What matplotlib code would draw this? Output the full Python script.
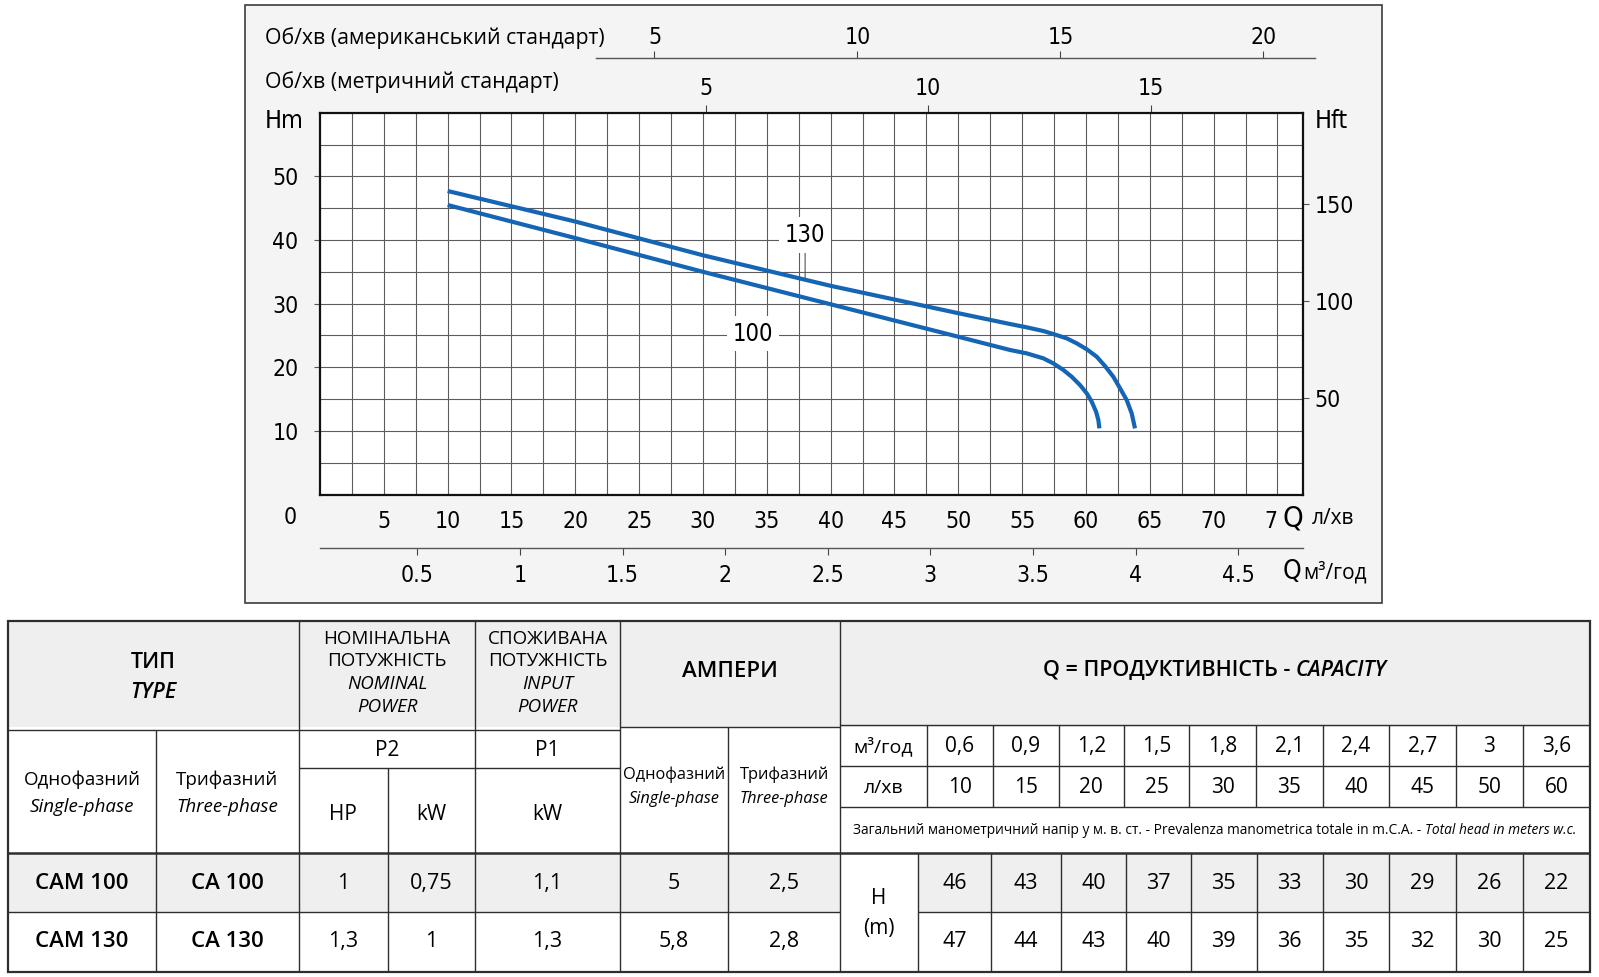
import numpy as np
import matplotlib.pyplot as plt
from matplotlib.patches import Rectangle

# pump curves: Q in l/min, H in m
q_130 = [10, 20, 30, 40, 50, 54.05, 55.36, 56.66, 57.44, 58.49, 59.27, 60.06, 60.84,
         61.49, 62.14, 62.67, 63.19, 63.58, 63.84]
h_130 = [47.7, 42.9, 37.6, 32.8, 28.5, 26.8, 26.28, 25.7, 25.23, 24.55, 23.77, 22.83, 21.67,
         20.2, 18.52, 16.7, 14.86, 12.77, 10.41]
q_100 = [10, 20, 30, 40, 50, 54.05, 55.36, 56.66, 57.44, 58.23, 58.88, 59.53, 60.06,
         60.45, 60.79, 60.97, 61.05]
h_100 = [45.5, 40.3, 35.0, 29.9, 24.8, 22.72, 22.19, 21.41, 20.62, 19.58, 18.52, 17.22, 15.91,
         14.6, 13.02, 11.72, 10.41]

lmin_ticks = [5, 10, 15, 20, 25, 30, 35, 40, 45, 50, 55, 60, 65, 70, 75]
m3h_ticks = [0.5, 1, 1.5, 2, 2.5, 3, 3.5, 4, 4.5]
m3h_labels = ['0.5', '1', '1.5', '2', '2.5', '3', '3.5', '4', '4.5']
rpm_metric_ticks = [5, 10, 15]
rpm_us_ticks = [5, 10, 15, 20]
hm_ticks = [10, 20, 30, 40, 50]
hft_ticks = [50, 100, 150]

# table
type_single = ['CAM 100', 'CAM 130']
type_three = ['CA 100', 'CA 130']
p2_hp = ['1', '1,3']
p2_kw = ['0,75', '1']
p1_kw = ['1,1', '1,3']
amp_single = ['5', '5,8']
amp_three = ['2,5', '2,8']
cap_m3h = ['0,6', '0,9', '1,2', '1,5', '1,8', '2,1', '2,4', '2,7', '3', '3,6']
cap_lmin = ['10', '15', '20', '25', '30', '35', '40', '45', '50', '60']
head_100 = [46, 43, 40, 37, 35, 33, 30, 29, 26, 22]
head_130 = [47, 44, 43, 40, 39, 36, 35, 32, 30, 25]

TXT = ['Open Sans', 'DejaVu Sans']
BLUE = '#1565b5'
plt.rcParams['font.family'] = ['DejaVu Sans']
plt.rcParams['font.stretch'] = 'condensed'

W, H = 1599, 977
fig = plt.figure(figsize=(W / 100, H / 100), dpi=100)

bg = fig.add_axes([0, 0, 1, 1])
bg.set_xlim(0, W)
bg.set_ylim(H, 0)
bg.axis('off')
bg.add_patch(Rectangle((245, 5), 1137, 598, fc='#f4f4f4', ec='#3c3c3c', lw=1.2))

# main plot
L, R, T, B = 320, 1303, 112.7, 494.6
ax = fig.add_axes([L / W, 1 - B / H, (R - L) / W, (B - T) / H])
ax.set_xlim(0, 77)
ax.set_ylim(0, 60)
ax.set_xticks(lmin_ticks)
ax.set_xticks(np.arange(2.5, 77, 5), minor=True)
ax.set_yticks(hm_ticks)
ax.set_yticks(np.arange(5, 60, 10), minor=True)
ax.grid(which='both', color='#5c5c5c', lw=0.8)
ax.set_axisbelow(True)
ax.tick_params(axis='x', which='both', length=0, pad=11, labelsize=16.5)
ax.tick_params(axis='y', which='major', length=4, width=0.8, color='#555', pad=11.5, labelsize=16.5)
ax.tick_params(axis='y', which='minor', length=0)
for s in ax.spines.values():
    s.set_linewidth(1.6)
    s.set_color('#111')

ax.plot(q_130, h_130, color=BLUE, lw=3, solid_joinstyle='round', solid_capstyle='butt')
ax.plot(q_100, h_100, color=BLUE, lw=3, solid_joinstyle='round', solid_capstyle='butt')

ax.annotate('130', xy=(38.0, np.interp(38.0, q_130, h_130)), xytext=(38.0, 40.8),
            ha='center', va='center', fontsize=17,
            bbox=dict(boxstyle='square,pad=0.25', fc='white', ec='none'),
            arrowprops=dict(arrowstyle='-', color='#555', lw=0.8, shrinkA=0, shrinkB=0))
ax.text(33.9, 25.3, '100', ha='center', va='center', fontsize=17,
        bbox=dict(boxstyle='square,pad=0.25', fc='white', ec='none'))

ft = ax.secondary_yaxis('right', functions=(lambda m: m / 0.3048, lambda f: f * 0.3048))
ft.set_yticks(hft_ticks)
ft.spines['right'].set_visible(False)
ft.tick_params(length=4, width=0.8, color='#555', pad=4.5, labelsize=16.5)

rpm_m = ax.secondary_xaxis('top', functions=(lambda q: (q - 12.75) / 3.49, lambda r: 12.75 + 3.49 * r))
rpm_m.set_xticks(rpm_metric_ticks)
rpm_m.spines['top'].set_visible(False)
rpm_m.tick_params(length=5.8, width=0.8, color='#444', pad=3.4, labelsize=16.5)

rpm_us = ax.secondary_xaxis((B - 58.3) / (B - T),
                            functions=(lambda q: (q - 10.3) / 3.18, lambda g: 10.3 + 3.18 * g))
rpm_us.set_xticks(rpm_us_ticks)
rpm_us.spines['top'].set_bounds(3.55, 21.26)
rpm_us.spines['top'].set_color('#555')
rpm_us.spines['top'].set_linewidth(1)
rpm_us.tick_params(length=5, width=0.8, color='#444', pad=1.5, labelsize=16.5)

m3 = ax.secondary_xaxis(-(547.7 - B) / (B - T),
                        functions=(lambda q: (q + 0.4) / 16.07, lambda m: 16.07 * m - 0.4))
m3.set_xticks(m3h_ticks, m3h_labels)
m3.spines['bottom'].set_color('#555')
m3.spines['bottom'].set_linewidth(1)
m3.tick_params(length=5, width=0.8, color='#444', pad=7, labelsize=16.5)

# overlay for free text and the table
fg = fig.add_axes([0, 0, 1, 1], zorder=5)
fg.set_xlim(0, W)
fg.set_ylim(H, 0)
fg.axis('off')
fg.patch.set_alpha(0)

fg.text(265, 38, 'Об/хв (американський стандарт)', family=TXT, stretch='normal', fontsize=15.3, va='center')
fg.text(265, 82, 'Об/хв (метричний стандарт)', family=TXT, stretch='normal', fontsize=15.3, va='center')
fg.text(284.6, 120.5, 'Hm', fontsize=18, ha='center', va='center')
fg.text(1315, 120.5, 'Hft', fontsize=18, va='center')
fg.text(290.6, 518, '0', fontsize=16.5, ha='center', va='center')
fg.text(1283, 518, 'Q', fontsize=21, va='center',
        bbox=dict(boxstyle='square,pad=0.22', fc='#f4f4f4', ec='none'))
fg.text(1312, 518, 'л/хв', family=TXT, stretch='normal', fontsize=15, va='center')
fg.text(1283, 572, 'Q', fontsize=19, va='center')
fg.text(1303, 572, 'м³/год', family=TXT, stretch='normal', fontsize=15, va='center')

# ---- table ----
GRAY = '#efefef'
LINE = '#2e2e2e'
xl, xr, yt, yb = 8, 1590, 620.5, 971.7
fg.add_patch(Rectangle((xl, yt), xr - xl, 727 - yt, fc=GRAY, ec='none'))
fg.add_patch(Rectangle((xl, 852.7), 840 - xl, 912 - 852.7, fc=GRAY, ec='none'))
fg.add_patch(Rectangle((918.3, 852.7), xr - 918.3, 912 - 852.7, fc=GRAY, ec='none'))
fg.add_patch(Rectangle((xl, yt), xr - xl, yb - yt, fc='none', ec=LINE, lw=1.6))

xs_m3 = [840, 926.7, 993.3, 1058.7, 1124, 1189.3, 1256, 1322.7, 1389.3, 1456, 1522.7, 1590]
xs_h = [840, 918.3, 990.7, 1060.7, 1126, 1190.7, 1256.7, 1322.7, 1389.3, 1456, 1522.7, 1590]


def vline(x, y0, y1, lw=1.0):
    fg.plot([x, x], [y0, y1], color=LINE, lw=lw, solid_capstyle='butt')


def hline(y, x0, x1, lw=1.0):
    fg.plot([x0, x1], [y, y], color=LINE, lw=lw, solid_capstyle='butt')


vline(156, 730, yb)
vline(298.8, yt, yb)
vline(387.5, 768.3, yb)
vline(475.2, yt, yb)
vline(620, yt, yb)
vline(728, 727, yb)
vline(840, yt, yb)
for x in xs_m3[1:-1]:
    vline(x, 725, 807.3)
for x in xs_h[1:-1]:
    vline(x, 852.7, yb)
hline(730, xl, 620)
hline(727, 620, 840)
hline(725, 840, xr)
hline(768.3, 298.8, 620)
hline(766, 840, xr)
hline(807.3, 840, xr)
hline(852.7, xl, xr, lw=1.8)
hline(912, xl, 840)
hline(912, 918.3, xr)


def cell(x, y, s, size=15, style='normal', weight='normal'):
    fg.text(x, y, s, family=TXT, stretch='normal', fontsize=size, fontstyle=style,
            fontweight=weight, ha='center', va='center')


def mixed(x, y, parts, size):
    r = fig.canvas.get_renderer()
    a = fg.text(0, 0, 'a a', family=TXT, stretch='normal', fontsize=size)
    b = fg.text(0, 0, 'aa', family=TXT, stretch='normal', fontsize=size)
    gap = a.get_window_extent(r).width - b.get_window_extent(r).width
    a.remove()
    b.remove()
    texts = [fg.text(0, y, s, family=TXT, stretch='normal', fontsize=size, fontstyle=st,
                     fontweight=wt, ha='left', va='center') for s, st, wt in parts]
    widths = [t.get_window_extent(r).width for t in texts]
    x0 = x - (sum(widths) + gap * (len(texts) - 1)) / 2
    for t, w in zip(texts, widths):
        t.set_x(x0)
        x0 += w + gap


cell(153.4, 663, 'ТИП', 15.5, weight='semibold')
cell(153.4, 692.7, 'TYPE', 15.5, style='italic', weight='semibold')
for xc, l1 in [(387, 'НОМІНАЛЬНА'), (547.6, 'СПОЖИВАНА')]:
    cell(xc, 639.3, l1, 13.5, weight='medium')
    cell(xc, 661, 'ПОТУЖНІСТЬ', 13.5, weight='medium')
cell(387, 684.3, 'NOMINAL', 13.5, style='italic')
cell(387, 707.3, 'POWER', 13.5, style='italic')
cell(547.6, 684.3, 'INPUT', 13.5, style='italic')
cell(547.6, 707.3, 'POWER', 13.5, style='italic')
cell(730, 671.7, 'АМПЕРИ', 16, weight='semibold')
mixed(1215, 670, [('Q = ПРОДУКТИВНІСТЬ -', 'normal', 'semibold'),
                  ('CAPACITY', 'italic', 'semibold')], 15.5)

cell(387, 751, 'P2', 15)
cell(547.6, 751, 'P1', 15)
cell(343.2, 815, 'HP', 15)
cell(431.4, 815, 'kW', 15)
cell(547.6, 815, 'kW', 15)
cell(82, 780, 'Однофазний', 13.5)
cell(82, 806.7, 'Single-phase', 13.5, style='italic')
cell(227.4, 780, 'Трифазний', 13.5)
cell(227.4, 806.7, 'Three-phase', 13.5, style='italic')
cell(674, 775, 'Однофазний', 11.8)
cell(674, 799.3, 'Single-phase', 11.8, style='italic')
cell(784, 775, 'Трифазний', 11.8)
cell(784, 799.3, 'Three-phase', 11.8, style='italic')

cell((xs_m3[0] + xs_m3[1]) / 2, 746.7, 'м³/год', 14)
cell((xs_m3[0] + xs_m3[1]) / 2, 787.7, 'л/хв', 14)
for i in range(len(cap_m3h)):
    xc = (xs_m3[i + 1] + xs_m3[i + 2]) / 2
    cell(xc, 746.7, cap_m3h[i], 15)
    cell(xc, 787.7, cap_lmin[i], 15)
mixed(1215, 830, [('Загальний манометричний напір у м. в. ст. - Prevalenza manometrica totale in m.C.A. -',
                   'normal', 'normal'), ('Total head in meters w.c.', 'italic', 'normal')], 9.9)

rows_y = [883.3, 941.7]
for j in range(2):
    y = rows_y[j]
    cell(82, y, type_single[j], 16, weight='semibold')
    cell(227.4, y, type_three[j], 16, weight='semibold')
    cell(343.2, y, p2_hp[j], 15.5)
    cell(431.4, y, p2_kw[j], 15.5)
    cell(547.6, y, p1_kw[j], 15.5)
    cell(674, y, amp_single[j], 15.5)
    cell(784, y, amp_three[j], 15.5)
cell(879, 898.3, 'H', 15)
cell(879, 928.3, '(m)', 15)
for i in range(len(head_100)):
    xc = (xs_h[i + 1] + xs_h[i + 2]) / 2
    cell(xc, rows_y[0], str(head_100[i]), 15.5)
    cell(xc, rows_y[1], str(head_130[i]), 15.5)

fig.savefig('out.png', dpi=100)
